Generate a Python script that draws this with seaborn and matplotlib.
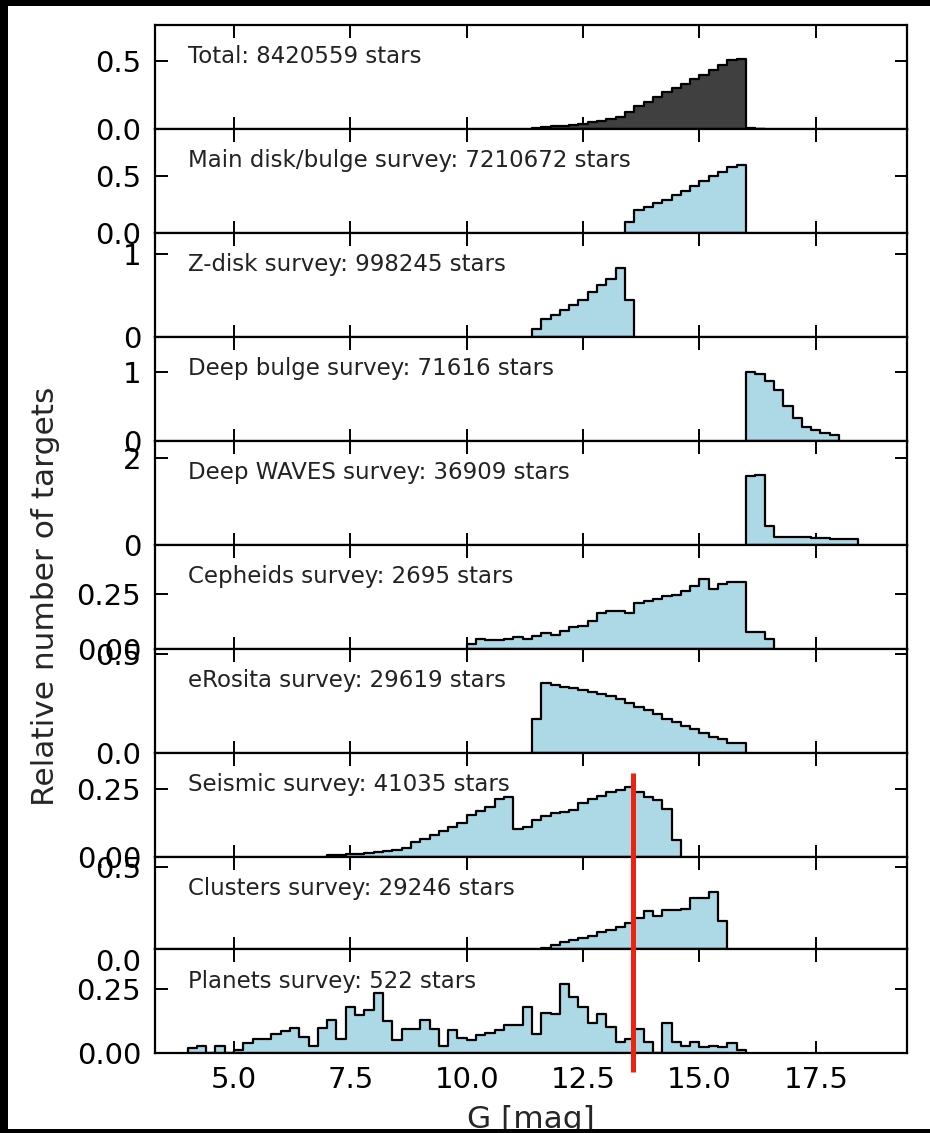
import numpy as np
import pandas as pd
import matplotlib
matplotlib.use("Agg")
import matplotlib.pyplot as plt
import seaborn as sns
from matplotlib.transforms import ScaledTranslation, blended_transform_factory
from matplotlib.lines import Line2D
from matplotlib.patches import Rectangle

# ---- data: normalised G-magnitude histograms (bin width 0.2 mag) ----
BIN = 0.2

titles = [
    "Total: 8420559 stars",
    "Main disk/bulge survey: 7210672 stars",
    "Z-disk survey: 998245 stars",
    "Deep bulge survey: 71616 stars",
    "Deep WAVES survey: 36909 stars",
    "Cepheids survey: 2695 stars",
    "eRosita survey: 29619 stars",
    "Seismic survey: 41035 stars",
    "Clusters survey: 29246 stars",
    "Planets survey: 522 stars",
]

first_edges = [11.4, 13.4, 11.4, 16.0, 16.0, 10.0, 11.4, 7.0, 11.6, 4.0]

total = [0.005, 0.013, 0.020, 0.023, 0.030, 0.040, 0.048, 0.058, 0.074, 0.089,
         0.127, 0.17, 0.20, 0.24, 0.27, 0.30, 0.33, 0.37, 0.40, 0.44, 0.47,
         0.51, 0.515, 0.004, 0.002]
main_disk = [0.096, 0.205, 0.23, 0.26, 0.29, 0.33, 0.37, 0.41, 0.46, 0.50,
             0.54, 0.58, 0.60]
z_disk = [0.097, 0.218, 0.27, 0.32, 0.38, 0.45, 0.54, 0.63, 0.70, 0.83, 0.45]
deep_bulge = [1.0, 0.98, 0.88, 0.74, 0.51, 0.33, 0.20, 0.16, 0.11, 0.08]
deep_waves = [1.585, 1.62, 0.43, 0.177, 0.177, 0.177, 0.177, 0.154, 0.154,
              0.123, 0.123, 0.123]
cepheids = [0.020, 0.046, 0.038, 0.041, 0.046, 0.051, 0.046, 0.058, 0.070,
            0.061, 0.081, 0.097, 0.104, 0.127, 0.165, 0.173, 0.173, 0.165,
            0.208, 0.219, 0.227, 0.239, 0.245, 0.265, 0.288, 0.319, 0.273,
            0.296, 0.306, 0.306, 0.077, 0.077, 0.043]
erosita = [0.170, 0.353, 0.342, 0.336, 0.331, 0.319, 0.309, 0.300, 0.288,
           0.275, 0.254, 0.232, 0.215, 0.195, 0.170, 0.156, 0.136, 0.119,
           0.102, 0.081, 0.068, 0.051, 0.051]
seismic = [0.004, 0.004, 0.0075, 0.010, 0.0125, 0.015, 0.019, 0.0225, 0.0325,
           0.054, 0.066, 0.079, 0.095, 0.11, 0.125, 0.154, 0.17, 0.185,
           0.2125, 0.22, 0.101, 0.11, 0.135, 0.15, 0.1625, 0.166, 0.1725,
           0.20, 0.2125, 0.225, 0.2375, 0.2475, 0.2575, 0.2375, 0.22, 0.2075,
           0.175, 0.06]
clusters = [0.006, 0.026, 0.041, 0.053, 0.067, 0.081, 0.102, 0.118, 0.134,
            0.159, 0.19, 0.23, 0.20, 0.24, 0.24, 0.245, 0.31, 0.31, 0.352,
            0.169]
planets = [0.0195, 0.026, 0.0, 0.026, 0.0, 0.010, 0.039, 0.055, 0.055, 0.076,
           0.085, 0.098, 0.0625, 0.029, 0.10, 0.13, 0.055, 0.18, 0.15, 0.17,
           0.237, 0.124, 0.052, 0.094, 0.094, 0.13, 0.094, 0.029, 0.091,
           0.059, 0.05, 0.07, 0.079, 0.089, 0.109, 0.109, 0.18, 0.076, 0.158,
           0.153, 0.271, 0.221, 0.18, 0.116, 0.153, 0.103, 0.043, 0.053,
           0.096, 0.043, 0.0, 0.116, 0.043, 0.026, 0.043, 0.024, 0.026,
           0.024, 0.039, 0.013]

series = [total, main_disk, z_disk, deep_bulge, deep_waves, cepheids,
          erosita, seismic, clusters, planets]

y_tops = [0.77, 0.915, 1.26, 1.52, 2.41, 0.475, 0.529, 0.385, 0.566, 0.408]
y_ticks = [[0.0, 0.5], [0.0, 0.5], [0, 1], [0, 1], [0, 2], [0.0, 0.25],
           [0.0, 0.5], [0.0, 0.25], [0.0, 0.5], [0.0, 0.25]]
x_ticks = [5.0, 7.5, 10.0, 12.5, 15.0, 17.5]
fill_colors = ["#404040"] + ["lightblue"] * 9
marker_mag = 13.57

# ---- style ----
sns.set_style("ticks")
plt.rcParams.update({
    "font.family": ["DejaVu Sans"],
    "axes.linewidth": 1.6,
    "axes.edgecolor": "black",
    "xtick.direction": "in",
    "ytick.direction": "in",
    "xtick.top": True,
    "ytick.right": True,
    "xtick.major.size": 9,
    "ytick.major.size": 9,
    "xtick.major.width": 1.4,
    "ytick.major.width": 1.4,
    "xtick.major.pad": 9,
    "ytick.major.pad": 10,
    "xtick.labelsize": 21,
    "ytick.labelsize": 21,
    "xtick.color": "black",
    "ytick.color": "black",
})

W, H = 930, 1133
fig = plt.figure(figsize=(W / 100, H / 100), dpi=100)
fig.patch.set_facecolor("white")
gs = fig.add_gridspec(
    10, 1, height_ratios=[104] * 8 + [92.6, 104], hspace=0,
    left=155 / W, right=907 / W, top=1 - 25 / H, bottom=1 - 1053 / H)

axes = []
for i in range(10):
    ax = fig.add_subplot(gs[i], sharex=axes[0] if axes else None)
    axes.append(ax)
    vals = np.asarray(series[i], dtype=float)
    edges = first_edges[i] + BIN * np.arange(len(vals) + 1)
    frame = pd.DataFrame({"G": edges[:-1] + BIN / 2, "density": vals})
    sns.histplot(data=frame, x="G", weights="density", bins=edges.tolist(),
                 element="step", fill=True, color=fill_colors[i], alpha=1,
                 edgecolor="black", linewidth=1.6, ax=ax)
    ax.set_xlabel("")
    ax.set_ylabel("")
    ax.set_ylim(0, y_tops[i])
    ax.set_yticks(y_ticks[i])
    ax.set_xlim(3.3, 19.46)
    ax.set_xticks(x_ticks)
    if i < 9:
        ax.tick_params(labelbottom=False)
    ax.annotate(titles[i], xy=(0.044, 1.0), xycoords="axes fraction",
                xytext=(0, -23), textcoords="offset points",
                ha="left", va="center", fontsize=16.5, color="#222222")

# the clusters panel's zero label sits a little lower
zero_lbl = axes[8].yaxis.get_major_ticks()[0].label1
zero_lbl.set_transform(zero_lbl.get_transform()
                       + ScaledTranslation(0, -11 / 100, fig.dpi_scale_trans))

axes[5].set_ylabel("Relative number of targets", fontsize=22.5)
axes[5].yaxis.set_label_coords(-0.126, 0.5)
axes[9].set_xlabel("G [mag]", fontsize=22.5, labelpad=8)

# red marker line across the lower panels
tr = blended_transform_factory(axes[9].transData, fig.transFigure)
fig.add_artist(Line2D([marker_mag, marker_mag], [1 - 773 / H, 1 - 1072 / H],
                      transform=tr, color="#ee2211", linewidth=3.6,
                      solid_capstyle="butt", zorder=20))

# dark frame edges
for rect in [(0, 1 - 6 / H, 1, 6 / H), (0, 0, 8 / W, 1), (0, 0, 1, 4 / H)]:
    fig.add_artist(Rectangle(rect[:2], rect[2], rect[3],
                             transform=fig.transFigure, facecolor="black",
                             linewidth=0, zorder=30))

fig.savefig("out.png", dpi=100)
